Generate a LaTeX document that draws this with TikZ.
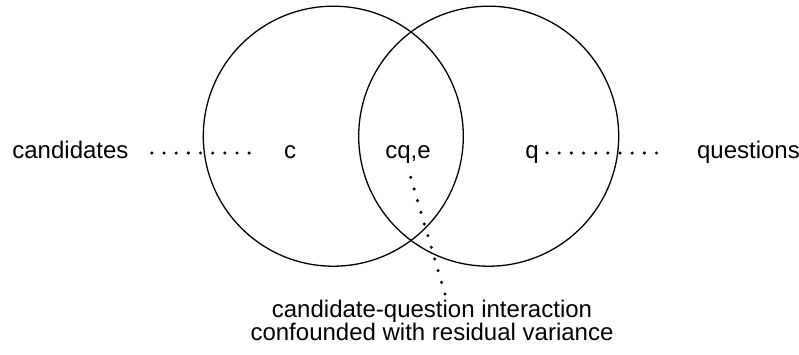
\documentclass[tikz,border=0pt]{standalone}
\usepackage{fontspec}
\setmainfont{Liberation Sans}
\usetikzlibrary{calc}
\begin{document}
\begin{tikzpicture}[x=0.5pt,y=-0.5pt,
  every node/.style={inner sep=0pt, font=\fontsize{12}{11.3}\selectfont},
  setcircle/.style={line width=0.65pt},
  dotline/.style={line width=1.7pt, line cap=round, dash pattern=on 0pt off 6.08pt}]
\useasboundingbox (0,0) rectangle (799,354);
\draw[setcircle] (333.3,136.2) circle [radius=65pt];
\draw[setcircle] (488.7,136.2) circle [radius=65pt];
\node[anchor=base west] (cand) at (12,158.3) {candidates};
\node[anchor=base] (c) at (290,158.3) {c};
\node[anchor=base] (cq) at (408,158.3) {cq,e};
\node[anchor=base] (q) at (532,158.3) {q};
\node[anchor=base west] (ques) at (696.7,158.3) {questions};
\node[anchor=base, align=center] (expl) at (432,340) {candidate-question interaction\\confounded with residual variance};
\draw[dotline, shorten <=11.5pt, shorten >=11.65pt] (cand.mid east) -- (c.mid west);
\draw[dotline, shorten <=4pt, shorten >=14.2pt] (q.mid east) -- (ques.mid west);
\draw[dotline] ($(cq.base)+(2.7,19)$) -- ($(expl.base)+(13,-46)$);
\end{tikzpicture}
\end{document}
